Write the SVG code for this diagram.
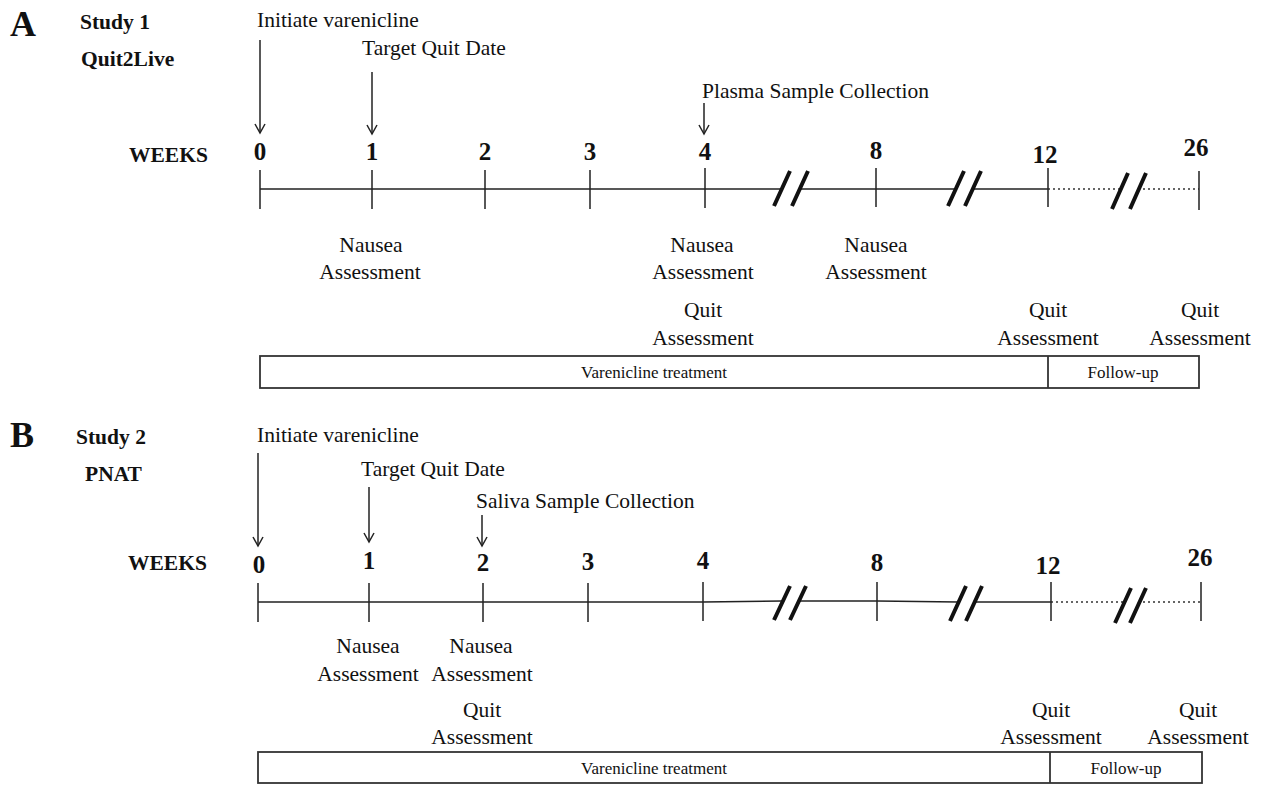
<svg xmlns="http://www.w3.org/2000/svg" width="1274" height="785" viewBox="0 0 1274 785">
<defs>
<style>
text{font-family:"Liberation Serif","Times New Roman",serif;fill:#111}
.lbl{font-size:21.5px}
.c{text-anchor:middle}
.num{font-size:25px;font-weight:bold;text-anchor:middle}
.hd{font-size:21.5px;font-weight:bold}
.pl{font-size:36px;font-weight:bold}
.bx{font-size:17px;text-anchor:middle}
.ln{stroke:#222;stroke-width:1.5;fill:none}
.dot{stroke:#333;stroke-width:1.5;stroke-dasharray:2 3;fill:none}
.sl{stroke:#111;stroke-width:4;fill:none}
.box{stroke:#333;stroke-width:1.8;fill:#fff}
.arr{stroke:#222;stroke-width:1.5;fill:none;marker-end:url(#ah)}
</style>
<marker id="ah" markerWidth="12" markerHeight="12" refX="10" refY="6" orient="auto" markerUnits="userSpaceOnUse" viewBox="0 0 12 12">
<path d="M1,1 L10,6 L1,11" fill="none" stroke="#222" stroke-width="1.5"/>
</marker>
</defs>

<!-- Panel A -->
<g id="panelA-labels">
<text class="pl" x="10" y="36">A</text>
<text class="hd" x="80" y="29">Study 1</text>
<text class="hd" x="81" y="66">Quit2Live</text>
<text class="hd" x="129" y="162">WEEKS</text>
</g>
<g id="A-events">
<text class="lbl" x="257" y="27">Initiate varenicline</text>
<text class="lbl" x="362" y="55">Target Quit Date</text>
<text class="lbl" x="702" y="98">Plasma Sample Collection</text>
</g>
<g id="A-weeks">
<text class="num" x="260" y="160">0</text>
<text class="num" x="372" y="160">1</text>
<text class="num" x="485" y="160">2</text>
<text class="num" x="590" y="160">3</text>
<text class="num" x="705" y="160">4</text>
<text class="num" x="876" y="159">8</text>
<text class="num" x="1045" y="163">12</text>
<text class="num" x="1196" y="156">26</text>
</g>
<g id="A-timeline">
<path class="ln" d="M260,189 H782 M800,189 H956 M973,189 H1048"/>
<path class="dot" d="M1048,189 H1120 M1138,189 H1199"/>
<path class="ln" d="M260,170 V209 M372,170 V209 M485,170 V209 M590,170 V209 M705,168 V208 M876,168 V207 M1048,168 V207 M1199,171 V210"/>
<path class="sl" d="M774,206 L790,171 M792,206 L808,171 M948,206 L964,171 M965,206 L981,171 M1112,209 L1128,173 M1130,209 L1146,173"/>
</g>
<g id="A-connectors">
<line class="arr" x1="260" y1="40" x2="260" y2="133"/>
<line class="arr" x1="372" y1="72" x2="372" y2="134"/>
<line class="arr" x1="704" y1="103" x2="704" y2="134"/>
</g>
<g id="A-assess">
<text class="lbl c" x="371" y="252">Nausea</text>
<text class="lbl c" x="370" y="279">Assessment</text>
<text class="lbl c" x="702" y="252">Nausea</text>
<text class="lbl c" x="703" y="279">Assessment</text>
<text class="lbl c" x="876" y="252">Nausea</text>
<text class="lbl c" x="876" y="279">Assessment</text>
<text class="lbl c" x="703" y="317">Quit</text>
<text class="lbl c" x="703" y="345">Assessment</text>
<text class="lbl c" x="1048" y="317">Quit</text>
<text class="lbl c" x="1048" y="345">Assessment</text>
<text class="lbl c" x="1200" y="317">Quit</text>
<text class="lbl c" x="1200" y="345">Assessment</text>
</g>
<g id="A-bar">
<rect class="box" x="260" y="356" width="939" height="32"/>
<line class="box" x1="1048" y1="356" x2="1048" y2="388"/>
<text class="bx" x="654" y="378">Varenicline treatment</text>
<text class="bx" x="1123" y="378">Follow-up</text>
</g>

<!-- Panel B -->
<g id="panelB-labels">
<text class="pl" x="10" y="447">B</text>
<text class="hd" x="76" y="444">Study 2</text>
<text class="hd" x="85" y="481">PNAT</text>
<text class="hd" x="128" y="570">WEEKS</text>
</g>
<g id="B-events">
<text class="lbl" x="257" y="442">Initiate varenicline</text>
<text class="lbl" x="361" y="476">Target Quit Date</text>
<text class="lbl" x="476" y="508">Saliva Sample Collection</text>
</g>
<g id="B-weeks">
<text class="num" x="259" y="573">0</text>
<text class="num" x="369" y="569">1</text>
<text class="num" x="483" y="571">2</text>
<text class="num" x="588" y="570">3</text>
<text class="num" x="703" y="569">4</text>
<text class="num" x="877" y="571">8</text>
<text class="num" x="1048" y="574">12</text>
<text class="num" x="1200" y="566">26</text>
</g>
<g id="B-timeline">
<path class="ln" d="M258,602 H703 L782,601 M798,601 H877 L958,602 M974,602 H1051"/>
<path class="dot" d="M1051,602 H1123 M1138,602 H1201"/>
<path class="ln" d="M258,583 V622 M369,583 V622 M483,583 V622 M588,583 V622 M703,582 V621 M877,582 V621 M1051,582 V621 M1201,582 V621"/>
<path class="sl" d="M774,620 L790,586 M790,620 L806,586 M950,621 L966,586 M966,621 L982,586 M1115,623 L1131,588 M1130,623 L1146,588"/>
</g>
<g id="B-connectors">
<line class="arr" x1="258" y1="453" x2="258" y2="546"/>
<line class="arr" x1="369" y1="487" x2="369" y2="542"/>
<line class="arr" x1="482" y1="515" x2="482" y2="546"/>
</g>
<g id="B-assess">
<text class="lbl c" x="368" y="653">Nausea</text>
<text class="lbl c" x="368" y="681">Assessment</text>
<text class="lbl c" x="481" y="653">Nausea</text>
<text class="lbl c" x="482" y="681">Assessment</text>
<text class="lbl c" x="482" y="717">Quit</text>
<text class="lbl c" x="482" y="744">Assessment</text>
<text class="lbl c" x="1051" y="717">Quit</text>
<text class="lbl c" x="1051" y="744">Assessment</text>
<text class="lbl c" x="1198" y="717">Quit</text>
<text class="lbl c" x="1198" y="744">Assessment</text>
</g>
<g id="B-bar">
<rect class="box" x="258" y="752" width="944" height="31"/>
<line class="box" x1="1050" y1="752" x2="1050" y2="783"/>
<text class="bx" x="654" y="774">Varenicline treatment</text>
<text class="bx" x="1126" y="774">Follow-up</text>
</g>
</svg>
